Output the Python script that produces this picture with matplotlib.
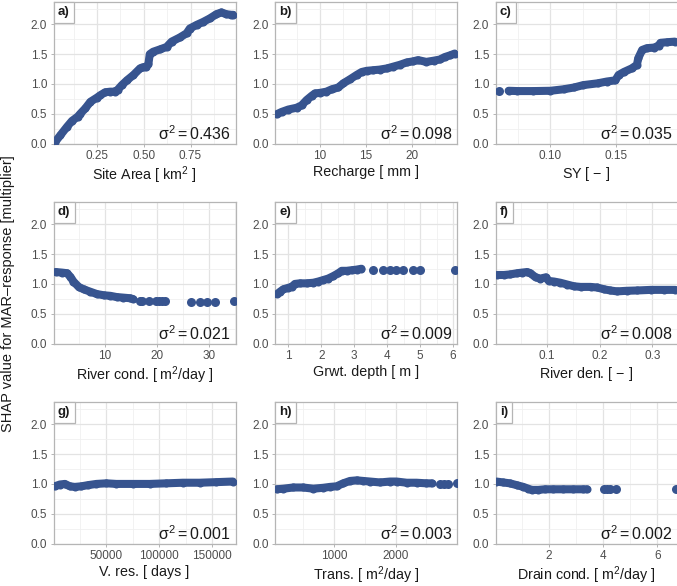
import numpy as np
import matplotlib.pyplot as plt
from matplotlib.ticker import FixedLocator

plt.rcParams['font.family'] = ['Liberation Sans', 'DejaVu Sans']
plt.rcParams['mathtext.fontset'] = 'custom'
plt.rcParams['mathtext.rm'] = 'Liberation Sans'
plt.rcParams['mathtext.it'] = 'Liberation Sans'

# ── Data ──────────────────────────────────────────────────────────────────────
area_x = [0.028, 0.055, 0.09, 0.117, 0.147, 0.161, 0.188, 0.215, 0.25, 0.268, 0.294, 0.321,
          0.345, 0.36, 0.383, 0.41, 0.445, 0.48, 0.495, 0.512, 0.525, 0.532, 0.55, 0.587, 0.622,
          0.649, 0.693, 0.729, 0.746, 0.782, 0.817, 0.853, 0.888, 0.915, 0.941, 0.968, 0.978]
area_y = [0.03, 0.14, 0.28, 0.38, 0.45, 0.50, 0.59, 0.70, 0.77, 0.81, 0.86, 0.87,
          0.87, 0.90, 0.98, 1.06, 1.15, 1.26, 1.28, 1.28, 1.34, 1.50, 1.54, 1.58, 1.62,
          1.71, 1.78, 1.85, 1.93, 1.99, 2.04, 2.10, 2.17, 2.20, 2.17, 2.16, 2.16]

rech_x = [5.27, 5.82, 6.55, 7.45, 8.0, 8.55, 9.1, 9.45, 10.0, 10.7, 11.3, 12.0, 12.55, 13.3,
          14.0, 14.55, 15.1, 15.8, 16.5, 17.3, 18.0, 18.7, 19.45, 20.2, 20.7, 21.6, 22.4,
          23.1, 23.6, 24.2, 24.7]
rech_y = [0.49, 0.53, 0.57, 0.60, 0.64, 0.73, 0.80, 0.84, 0.85, 0.87, 0.91, 0.94, 1.01, 1.08,
          1.15, 1.20, 1.22, 1.23, 1.24, 1.26, 1.29, 1.32, 1.36, 1.38, 1.40, 1.37, 1.39,
          1.41, 1.45, 1.48, 1.51]

sy_x = [0.068, 0.0746, 0.087, 0.10, 0.110, 0.118, 0.125, 0.136, 0.143, 0.1495, 0.152, 0.156,
        0.162, 0.166, 0.167, 0.170, 0.1736, 0.179, 0.1825, 0.184, 0.189, 0.195]
sy_y = [0.885, 0.88, 0.88, 0.885, 0.91, 0.94, 0.98, 1.01, 1.04, 1.06, 1.15, 1.20,
        1.26, 1.32, 1.43, 1.57, 1.60, 1.61, 1.64, 1.69, 1.70, 1.71]
sy_sparse_x = [0.0607]
sy_sparse_y = [0.885]

rcond_x = [0.45, 1.69, 2.65, 3.3, 3.9, 4.9, 5.85, 7.1, 8.4, 9.7, 11.0, 12.2, 13.5, 14.8, 15.4]
rcond_y = [1.20, 1.19, 1.18, 1.12, 1.04, 0.95, 0.91, 0.87, 0.83, 0.81, 0.80, 0.78, 0.77, 0.76, 0.745]
rcond_sparse_x = [16.7, 17.0, 18.4, 19.8, 20.4, 20.9, 21.6, 26.6, 28.2, 29.6, 31.1, 34.9]
rcond_sparse_y = [0.71, 0.71, 0.71, 0.71, 0.705, 0.705, 0.705, 0.70, 0.695, 0.70, 0.70, 0.705]

depth_x = [0.66, 0.75, 0.85, 1.0, 1.1, 1.2, 1.35, 1.56, 1.76, 1.91, 2.06, 2.21, 2.36, 2.52,
           2.62, 2.77, 2.92, 3.07, 3.22]
depth_y = [0.83, 0.87, 0.91, 0.935, 0.95, 1.0, 1.01, 1.01, 1.02, 1.04, 1.065, 1.09, 1.13, 1.18,
           1.22, 1.22, 1.23, 1.24, 1.255]
depth_sparse_x = [3.56, 3.88, 4.1, 4.28, 4.48, 4.79, 4.99, 6.07]
depth_sparse_y = [1.23, 1.23, 1.23, 1.24, 1.23, 1.24, 1.23, 1.24]

rden_x = [0.0048, 0.0175, 0.030, 0.043, 0.052, 0.062, 0.068, 0.078, 0.087, 0.097, 0.103, 0.113,
          0.125, 0.138, 0.151, 0.1635, 0.1825, 0.195, 0.208, 0.22, 0.233, 0.252, 0.271, 0.297,
          0.322, 0.344]
rden_y = [1.15, 1.15, 1.16, 1.18, 1.19, 1.20, 1.18, 1.11, 1.09, 1.11, 1.05, 1.04,
          1.02, 0.99, 0.96, 0.95, 0.95, 0.94, 0.91, 0.89, 0.875, 0.885, 0.89, 0.90,
          0.90, 0.90]

vres_x = [1250, 5970, 10700, 15400, 20100, 26400, 32700, 40600, 50000, 59400, 75200, 90900,
          106600, 122300, 138000, 153800, 169500]
vres_y = [0.96, 0.99, 1.0, 0.96, 0.95, 0.96, 0.98, 1.0, 1.01, 1.0, 1.0, 1.0,
          1.01, 1.02, 1.02, 1.03, 1.04]

trans_x = [70, 180, 340, 500, 665, 827, 935, 1043, 1150, 1260, 1370, 1475, 1585, 1745, 1910,
           2015, 2180, 2340, 2500, 2585]
trans_y = [0.91, 0.92, 0.94, 0.94, 0.92, 0.935, 0.95, 0.96, 1.01, 1.05, 1.06, 1.05, 1.04, 1.025,
           1.04, 1.04, 1.02, 1.02, 1.01, 1.01]
trans_sparse_x = [2720, 2785, 2855, 2990]
trans_sparse_y = [1.0, 1.0, 1.0, 1.01]

drain_x = [0.056, 0.30, 0.55, 0.80, 1.05, 1.23, 1.36, 1.60, 1.85, 2.16, 2.53, 2.90, 3.27, 3.40]
drain_y = [1.04, 1.025, 1.01, 0.98, 0.95, 0.92, 0.90, 0.90, 0.91, 0.91, 0.91, 0.91, 0.91, 0.91]
drain_sparse_x = [4.04, 4.14, 4.24, 4.48, 6.70]
drain_sparse_y = [0.91, 0.91, 0.91, 0.91, 0.91]

labels = ['a)', 'b)', 'c)', 'd)', 'e)', 'f)', 'g)', 'h)', 'i)']
xtitles = [r'Site Area [ km$^{2}$ ]', 'Recharge [ mm ]', 'SY [ $-$ ]',
           r'River cond. [ m$^{2}$/day ]', 'Grwt. depth [ m ]', 'River den. [ $-$ ]',
           'V. res. [ days ]', r'Trans. [ m$^{2}$/day ]', r'Drain cond. [ m$^{2}$/day ]']
sigma2 = ['0.436', '0.098', '0.035', '0.021', '0.009', '0.008', '0.001', '0.003', '0.002']

dense = [(area_x, area_y), (rech_x, rech_y), (sy_x, sy_y), (rcond_x, rcond_y),
         (depth_x, depth_y), (rden_x, rden_y), (vres_x, vres_y), (trans_x, trans_y),
         (drain_x, drain_y)]
sparse = [None, None, (sy_sparse_x, sy_sparse_y), (rcond_sparse_x, rcond_sparse_y),
          (depth_sparse_x, depth_sparse_y), None, None, (trans_sparse_x, trans_sparse_y),
          (drain_sparse_x, drain_sparse_y)]

xlims = [(0.018, 0.99), (5.1, 24.95), (0.058, 0.197), (0.05, 35.1), (0.596, 6.12),
         (0.0016, 0.348), (0, 172000), (44, 2995), (0.02, 6.75)]
xmajor = [[0.25, 0.5, 0.75], [10, 15, 20], [0.10, 0.15], [10, 20, 30], [1, 2, 3, 4, 5, 6],
          [0.1, 0.2, 0.3], [50000, 100000, 150000], [1000, 2000], [2, 4, 6]]
xminor = [[0.125, 0.375, 0.625, 0.875], [7.5, 12.5, 17.5, 22.5], [0.075, 0.125, 0.175],
          [5, 15, 25, 35], [0.5, 1.5, 2.5, 3.5, 4.5, 5.5], [0.05, 0.15, 0.25],
          [25000, 75000, 125000], [500, 1500, 2500], [1, 3, 5]]
xfmt = ['{:.2f}', '{:g}', '{:.2f}', '{:g}', '{:g}', '{:g}', '{:d}', '{:d}', '{:g}']

# ── Plot ──────────────────────────────────────────────────────────────────────
W, H = 677, 586
fig = plt.figure(figsize=(W / 100, H / 100), dpi=100)

col_left = [53.5, 275, 495.5]
row_top = [2, 202, 402]
aw, ah = 182, 141.5

DOT = '#37548F'
GRID = '#E3E3E3'
FRAME = '#B5B5B5'

for k in range(9):
    r, c = divmod(k, 3)
    ax = fig.add_axes([col_left[c] / W, 1 - (row_top[r] + ah) / H, aw / W, ah / H])
    ax.set_facecolor('white')

    dx, dy = dense[k]
    ax.plot(dx, dy, '-o', color=DOT, lw=5.8, ms=5.8, mew=0,
            solid_capstyle='round', solid_joinstyle='round', zorder=3)
    if sparse[k] is not None:
        sx, sy = sparse[k]
        ax.plot(sx, sy, 'o', color=DOT, ms=6.5, mew=0, zorder=3)

    ax.set_xlim(*xlims[k])
    ax.set_ylim(0, 2.375)

    ax.xaxis.set_major_locator(FixedLocator(xmajor[k]))
    ax.xaxis.set_minor_locator(FixedLocator(xminor[k]))
    ax.set_xticklabels([xfmt[k].format(int(v) if xfmt[k] == '{:d}' else v) for v in xmajor[k]])
    ax.yaxis.set_major_locator(FixedLocator([0, 0.5, 1.0, 1.5, 2.0]))
    ax.yaxis.set_minor_locator(FixedLocator([0.25, 0.75, 1.25, 1.75, 2.25]))
    ax.set_yticklabels(['0.0', '0.5', '1.0', '1.5', '2.0'])

    ax.grid(True, which='major', color=GRID, lw=0.9, zorder=0)
    ax.grid(True, which='minor', color='#F0F0F0', lw=0.6, zorder=0)
    ax.set_axisbelow(True)
    for s in ax.spines.values():
        s.set_color(FRAME)
        s.set_linewidth(0.9)
    ax.tick_params(which='major', length=2.5, width=0.7, color=FRAME,
                   labelsize=8.5, labelcolor='#4D4D4D', pad=2)
    ax.tick_params(which='minor', length=0)

    ax.set_xlabel(xtitles[k], fontsize=10.3, color='#1A1A1A', labelpad=2)

    ax.text(0.975, 0.0, r'$\mathregular{\sigma^{2}=}$' + sigma2[k], transform=ax.transAxes,
            ha='right', va='bottom', fontsize=11.5, color='#1A1A1A', zorder=5)
    ax.annotate(labels[k], xy=(0, 1), xycoords='axes fraction', xytext=(3.2, -3.2),
                textcoords='offset points', ha='left', va='top', fontsize=9.5,
                fontweight='bold', color='#1A1A1A', zorder=6,
                bbox=dict(boxstyle='square,pad=0.33', fc='white', ec=FRAME, lw=0.9))

fig.text(8.5 / W, 1 - 294 / H, 'SHAP value for MAR\u2013response [multiplier]',
         rotation=90, ha='center', va='center', fontsize=10.5, color='#1A1A1A')

fig.savefig('out.png', dpi=100)
